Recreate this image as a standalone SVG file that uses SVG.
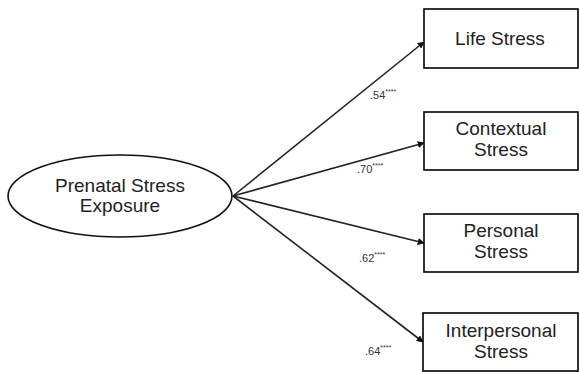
<svg xmlns="http://www.w3.org/2000/svg" width="580" height="372" viewBox="0 0 580 372">
<style>
.box{fill:#fff;stroke:#000;stroke-width:1.6}
.t{font-family:"Liberation Sans",Arial,sans-serif;font-size:19px;fill:#222;text-anchor:middle}
.l{font-family:"Liberation Sans",Arial,sans-serif;font-size:11px;fill:#333}
.s{font-size:7px}
.c{stroke:#222;stroke-width:1.6;fill:none;marker-end:url(#a)}
</style>
<defs>
<marker id="a" viewBox="0 0 10 10" refX="9" refY="5" markerWidth="7" markerHeight="7" markerUnits="userSpaceOnUse" orient="auto">
<path d="M0,0 L10,5 L0,10 z" fill="#111"/>
</marker>
</defs>
<rect width="580" height="372" fill="#fff"/>
<g id="connectors">
<line class="c" x1="233" y1="196" x2="424" y2="42"/>
<line class="c" x1="233" y1="196" x2="424" y2="143"/>
<line class="c" x1="233" y1="196" x2="424" y2="243"/>
<line class="c" x1="233" y1="196" x2="423" y2="342"/>
<text class="l" x="370" y="99">.54<tspan class="s" dy="-5">****</tspan></text>
<text class="l" x="357" y="173">.70<tspan class="s" dy="-5">****</tspan></text>
<text class="l" x="359" y="262">.62<tspan class="s" dy="-5">****</tspan></text>
<text class="l" x="365" y="355">.64<tspan class="s" dy="-5">****</tspan></text>
</g>
<g id="prenatal">
<ellipse cx="120" cy="196" rx="112" ry="41" fill="#fff" stroke="#111" stroke-width="1.6"/>
<text class="t" x="120" y="192">Prenatal Stress</text>
<text class="t" x="120" y="212">Exposure</text>
</g>
<g id="life">
<rect class="box" x="424" y="9" width="154" height="59"/>
<text class="t" x="500" y="45">Life Stress</text>
</g>
<g id="contextual">
<rect class="box" x="424" y="112" width="154" height="58"/>
<text class="t" x="501" y="135">Contextual</text>
<text class="t" x="501" y="156">Stress</text>
</g>
<g id="personal">
<rect class="box" x="424" y="214" width="154" height="58"/>
<text class="t" x="501" y="237">Personal</text>
<text class="t" x="501" y="258">Stress</text>
</g>
<g id="interpersonal">
<rect class="box" x="423" y="313" width="155" height="58"/>
<text class="t" x="501" y="337">Interpersonal</text>
<text class="t" x="501" y="358">Stress</text>
</g>
</svg>
